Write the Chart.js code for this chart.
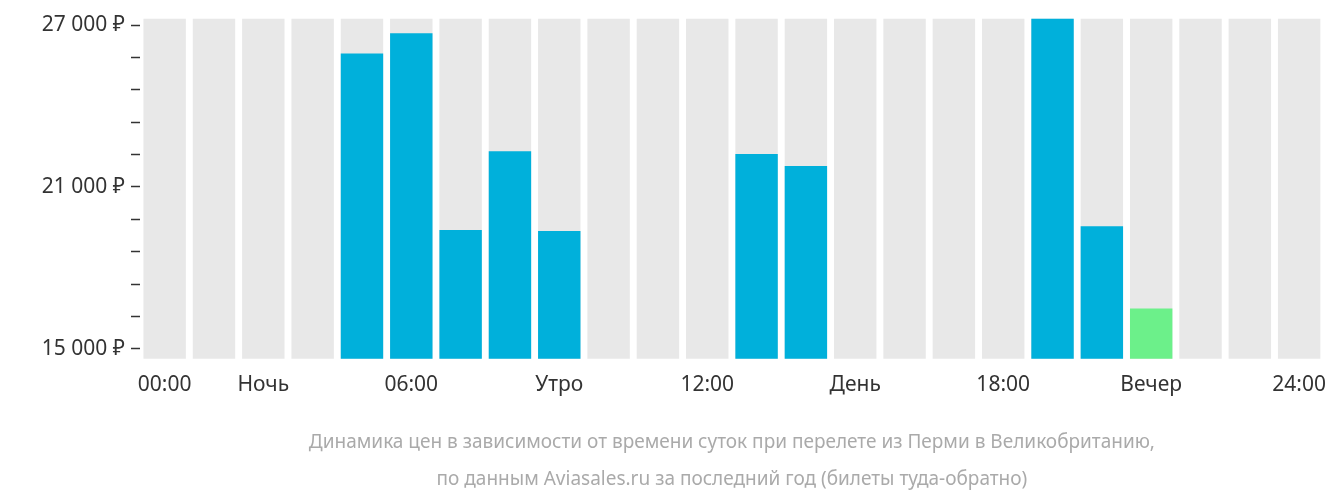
<!DOCTYPE html>
<html><head><meta charset="utf-8">
<script src="https://cdn.jsdelivr.net/npm/chart.js@4"></script>
<style>html,body{margin:0;padding:0;background:#fff}#w{width:1332px;height:502px}</style>
</head><body><div id="w"><canvas id="c"></canvas></div>
<script>
const hours = Array.from({length:24},(_,i)=>i);
const tickLabels = ["00:00","","Ночь","","","06:00","","","Утро","","","12:00","","","День","","","18:00","","","Вечер","","","24:00"];
const prices = [null,null,null,null,25950,26700,19400,22320,19370,null,null,null,22220,21780,null,null,null,null,27240,19540,16490,null,null,null];
const minIndex = 20;
const yMin = 14630, yMax = 27240;
const yTicks = [15000,16200,17400,18600,19800,21000,22200,23400,24600,25800,27000];
const yLabeled = [15000,21000,27000];
const titleLines = ['Динамика цен в зависимости от времени суток при перелете из Перми в Великобританию,','по данным Aviasales.ru за последний год (билеты туда-обратно)'];
const bg = hours.map(()=>yMax);
const colors = prices.map((v,i)=> i===minIndex ? '#6cf08a' : '#00b0db');
const titlePlugin = {id:'tp',afterDraw(ch){const c=ch.ctx,a=ch.chartArea;c.save();c.fillStyle='#aaaaaa';c.font='19px "Noto Sans"';c.textAlign='center';c.textBaseline='middle';const cx=(a.left+a.right)/2;c.fillText(titleLines[0],cx,443);c.fillText(titleLines[1],cx,480);c.restore();}};
new Chart(document.getElementById('c'),{
  type:'bar',
  data:{labels:tickLabels,datasets:[
    {data:prices,backgroundColor:colors,grouped:false,order:1,barPercentage:0.86,categoryPercentage:1},
    {data:bg,backgroundColor:'#e8e8e8',grouped:false,order:2,barPercentage:0.86,categoryPercentage:1}
  ]},
  plugins:[titlePlugin],
  options:{responsive:true,maintainAspectRatio:false,animation:false,
    layout:{padding:{left:0,right:0,top:-12,bottom:98}},
    plugins:{legend:{display:false},tooltip:{enabled:false},title:{display:false}},
    scales:{
      x:{grid:{display:false},border:{display:false},
        ticks:{autoSkip:false,maxRotation:0,color:'#333',font:{family:'Noto Sans',size:21},padding:6}},
      y:{min:yMin,max:yMax,border:{display:false},
        afterBuildTicks:s=>{s.ticks=yTicks.map(v=>({value:v}));},
        grid:{drawOnChartArea:false,drawTicks:true,tickLength:9,color:'#333',tickWidth:1.5},
        afterFit:s=>{s.width=140;},
        ticks:{color:'#333',font:{family:'Noto Sans',size:21},padding:6,
          callback:v=>yLabeled.includes(v)?String(v).replace(/\B(?=(\d{3})+$)/,' ')+' ₽':''}}
    }}
});
</script></body></html>
